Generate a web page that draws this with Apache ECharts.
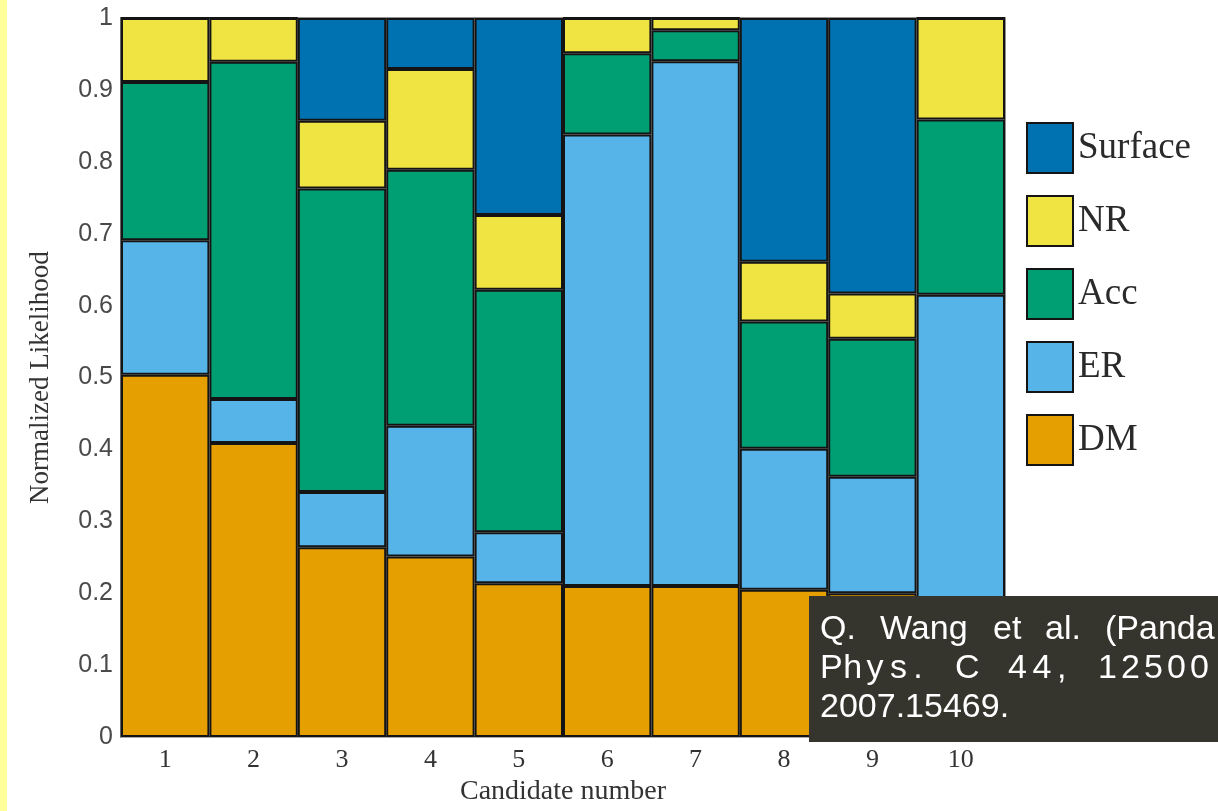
<!DOCTYPE html>
<html>
<head>
<meta charset="utf-8">
<script src="https://cdn.jsdelivr.net/npm/echarts@6/dist/echarts.min.js"></script>
<style>
  html, body { margin: 0; padding: 0; background: #ffffff; }
  #strip { position: absolute; left: 0; top: 0; width: 7px; height: 811px; background: #ffff9c; }
  #chart { width: 1218px; height: 811px; }
</style>
</head>
<body>
<div id="strip"></div>
<div id="chart"></div>
<script>
// Candidate events and the normalized likelihood of each background / signal hypothesis
const candidates = ['1', '2', '3', '4', '5', '6', '7', '8', '9', '10'];
const dm      = [0.504, 0.409, 0.264, 0.251, 0.214, 0.210, 0.210, 0.205, 0.200, 0.190];
const er      = [0.187, 0.061, 0.077, 0.182, 0.071, 0.628, 0.730, 0.196, 0.162, 0.425];
const acc     = [0.220, 0.469, 0.422, 0.356, 0.337, 0.113, 0.043, 0.177, 0.192, 0.244];
const nr      = [0.089, 0.061, 0.094, 0.140, 0.104, 0.049, 0.017, 0.083, 0.063, 0.141];
const surface = [0.000, 0.000, 0.143, 0.071, 0.274, 0.000, 0.000, 0.339, 0.383, 0.000];
const yTickLabels = ['0', '0.1', '0.2', '0.3', '0.4', '0.5', '0.6', '0.7', '0.8', '0.9', '1'];
const legendOrder = ['Surface', 'NR', 'Acc', 'ER', 'DM'];

const colors = {
  DM: '#e69f00',
  ER: '#56b4e9',
  Acc: '#009e73',
  NR: '#f0e442',
  Surface: '#0072b2'
};

const serif = '"Liberation Serif", "DejaVu Serif", serif';
const sans = '"Liberation Sans", Arial, sans-serif';

function bar(name, data) {
  return {
    name: name,
    type: 'bar',
    stack: 'likelihood',
    data: data,
    barWidth: '100%',
    barCategoryGap: '0%',
    itemStyle: { color: colors[name], borderColor: '#141414', borderWidth: 2 },
    emphasis: { disabled: true }
  };
}

// Citation box drawn over the lower-right corner; words are placed one by one
// so the spacing of the justified lines is kept.
const citeFont = 34;
const citeLines = [
  { y: 630, words: [['Q.', 820, 0], ['Wang', 880, 0], ['et', 993, 0], ['al.', 1045, 0], ['(Panda', 1105, 0]] },
  { y: 669, words: [['Phys.', 820, 23.3], ['C', 955, 0], ['44,', 1008, 24.5], ['12500', 1098, 23]] },
  { y: 708, words: [['2007.15469.', 820, 0]] }
];
const citeChildren = [{
  type: 'rect',
  z: 100,
  shape: { x: 809, y: 596, width: 420, height: 146 },
  style: { fill: '#35352e' }
}];
function citeText(text, x, y) {
  citeChildren.push({
    type: 'text',
    z: 101,
    style: { text: text, x: x, y: y, fill: '#ffffff',
             font: citeFont + 'px ' + sans, textVerticalAlign: 'middle' }
  });
}
citeLines.forEach(function (line) {
  line.words.forEach(function (w) {
    const text = w[0], x0 = w[1], pitch = w[2];
    if (pitch > 0) {
      for (let i = 0; i < text.length; i++) citeText(text[i], x0 + i * pitch, line.y);
    } else {
      citeText(text, x0, line.y);
    }
  });
});

const chart = echarts.init(document.getElementById('chart'), null, { renderer: 'canvas' });
chart.setOption({
  animation: false,
  backgroundColor: 'transparent',
  grid: { left: 121, right: 213, top: 18, bottom: 65, show: true, borderColor: '#6e6e6e', borderWidth: 1.5, backgroundColor: 'transparent' },
  legend: {
    data: legendOrder,
    orient: 'vertical',
    left: 1021,
    top: 117,
    itemWidth: 46,
    itemHeight: 50,
    itemGap: 21,
    icon: 'rect',
    selectedMode: false,
    textStyle: { fontFamily: serif, fontSize: 37, color: '#2a2a2a' }
  },
  xAxis: {
    type: 'category',
    data: candidates,
    name: 'Candidate number',
    nameLocation: 'middle',
    nameGap: 39,
    nameTextStyle: { fontFamily: serif, fontSize: 28, color: '#333' },
    axisLine: { show: true, lineStyle: { color: '#aaa', width: 1 } },
    axisTick: { show: false },
    axisLabel: { fontFamily: serif, fontSize: 26, color: '#333', margin: 10 }
  },
  yAxis: {
    type: 'value',
    min: 0,
    max: 1,
    interval: 0.1,
    name: 'Normalized Likelihood',
    nameLocation: 'middle',
    nameGap: 67,
    nameTextStyle: { fontFamily: serif, fontSize: 27, color: '#333' },
    axisLine: { show: true, lineStyle: { color: '#666', width: 2 } },
    axisTick: { show: false },
    splitLine: { show: false },
    axisLabel: {
      fontFamily: sans, fontSize: 25, color: '#4a4a4a', margin: 8,
      formatter: function (v) { return yTickLabels[Math.round(v * 10)]; }
    }
  },
  series: [
    bar('DM', dm),
    bar('ER', er),
    bar('Acc', acc),
    bar('NR', nr),
    bar('Surface', surface)
  ],
  graphic: [{ type: 'group', children: citeChildren }]
});
</script>
</body>
</html>
